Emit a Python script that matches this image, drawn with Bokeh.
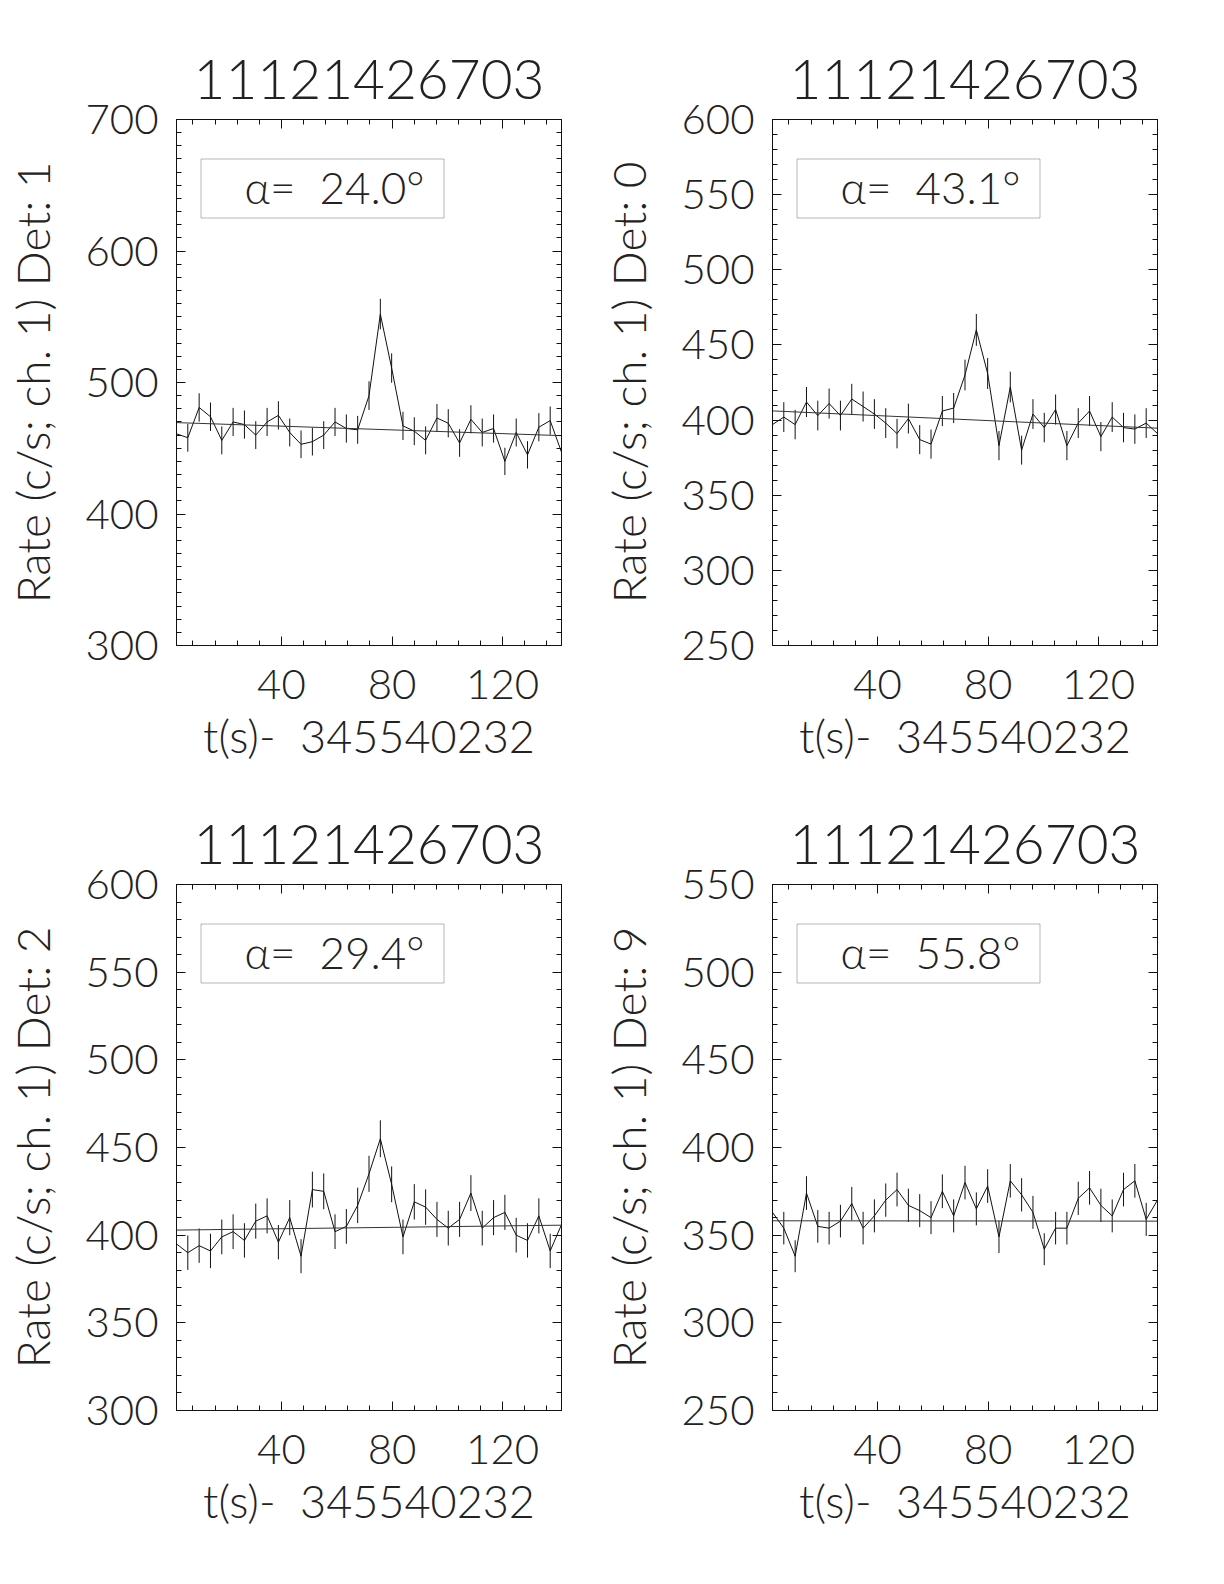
from bokeh.plotting import figure
from bokeh.layouts import gridplot
from bokeh.models import (ColumnDataSource, FixedTicker, LinearAxis, BoxAnnotation,
                          Label, CustomJSTickFormatter)
from bokeh.embed import file_html
from bokeh.resources import INLINE

# ---------------- data ----------------
title_text = "11121426703"
x_label = "t(s)-\u00a0 345540232"

time_s = [2.05, 6.14, 10.24, 14.34, 18.43, 22.53, 26.62, 30.72, 34.82, 38.91,
          43.01, 47.10, 51.20, 55.30, 59.39, 63.49, 67.58, 71.68, 75.78, 79.87,
          83.97, 88.06, 92.16, 96.26, 100.35, 104.45, 108.54, 112.64, 116.74, 120.83,
          124.93, 129.02, 133.12, 137.22, 141.31]

x_ticks = [40, 80, 120]
x_minor_ticks = [8, 16, 24, 32, 40, 48, 56, 64, 72, 80, 88, 96, 104, 112, 120, 128, 136]

# Det 1
rate_det1 = [461, 458, 481, 474, 456, 470, 468, 460, 470, 475, 462, 453, 455, 460, 470,
             465, 464, 490, 552, 511, 467, 463, 456, 473, 469, 454, 472, 462, 465, 440,
             462, 445, 466, 471, 447]
err_det1 = [10.6, 10.6, 10.8, 10.8, 10.6, 10.7, 10.7, 10.6, 10.7, 10.8, 10.6, 10.5, 10.5, 10.6, 10.7,
            10.7, 10.6, 10.9, 11.6, 11.2, 10.7, 10.6, 10.6, 10.7, 10.7, 10.5, 10.7, 10.6, 10.7, 10.4,
            10.6, 10.4, 10.7, 10.7, 10.4]
bkg_det1 = [469.5, 459.6]
alpha_det1 = "24.0"
yticks_det1 = [300, 400, 500, 600, 700]

# Det 0
rate_det0 = [397, 402, 397, 412, 403, 411, 403, 414, 409, 404, 398, 391, 401, 387, 384,
             406, 408, 430, 460, 431, 383, 422, 380, 404, 395, 407, 383, 398, 406, 389,
             402, 395, 394, 398, 391]
err_det0 = [9.8, 9.9, 9.8, 10.0, 9.9, 10.0, 9.9, 10.1, 10.0, 9.9, 9.9, 9.8, 9.9, 9.7, 9.7,
            10.0, 10.0, 10.2, 10.6, 10.3, 9.7, 10.2, 9.6, 9.9, 9.8, 10.0, 9.7, 9.9, 10.0, 9.7,
            9.9, 9.8, 9.8, 9.9, 9.8]
bkg_det0 = [406.1, 394.6]
alpha_det0 = "43.1"
yticks_det0 = [250, 300, 350, 400, 450, 500, 550, 600]

# Det 2
rate_det2 = [395, 390, 394, 391, 399, 402, 397, 408, 411, 396, 410, 388, 426, 425, 402,
             405, 417, 435, 455, 429, 399, 419, 416, 409, 404, 409, 424, 404, 410, 413,
             400, 397, 411, 391, 406]
err_det2 = [9.8, 9.8, 9.8, 9.8, 9.9, 9.9, 9.8, 10.0, 10.0, 9.8, 10.0, 9.7, 10.2, 10.2, 9.9,
            9.9, 10.1, 10.3, 10.5, 10.2, 9.9, 10.1, 10.1, 10.0, 9.9, 10.0, 10.2, 9.9, 10.0, 10.0,
            9.9, 9.8, 10.0, 9.8, 10.0]
bkg_det2 = [402.9, 405.7]
alpha_det2 = "29.4"
yticks_det2 = [300, 350, 400, 450, 500, 550, 600]

# Det 9
rate_det9 = [363, 354, 338, 374, 355, 354, 358, 368, 354, 361, 370, 376, 367, 364, 360,
             375, 361, 380, 365, 378, 349, 381, 373, 363, 342, 354, 354, 371, 377, 367,
             361, 376, 381, 359, 370]
err_det9 = [9.4, 9.3, 9.1, 9.6, 9.3, 9.3, 9.3, 9.5, 9.3, 9.4, 9.5, 9.6, 9.5, 9.4, 9.4,
            9.6, 9.4, 9.6, 9.4, 9.6, 9.2, 9.6, 9.5, 9.4, 9.1, 9.3, 9.3, 9.5, 9.6, 9.5,
            9.4, 9.6, 9.6, 9.4, 9.5]
bkg_det9 = [358.2, 358.0]
alpha_det9 = "55.8"
yticks_det9 = [250, 300, 350, 400, 450, 500, 550]

panels = [
    ("1", rate_det1, err_det1, bkg_det1, alpha_det1, yticks_det1, 10, 119),
    ("0", rate_det0, err_det0, bkg_det0, alpha_det0, yticks_det0, 10, 119),
    ("2", rate_det2, err_det2, bkg_det2, alpha_det2, yticks_det2, 10, 113),
    ("9", rate_det9, err_det9, bkg_det9, alpha_det9, yticks_det9, 10, 113),
]

# ---------------- style ----------------
FONT = "Lato Light, Lato"
TXT = "#222222"
INK = "#111111"


def style_axis(ax):
    ax.axis_line_color = INK
    ax.major_tick_line_color = INK
    ax.minor_tick_line_color = INK
    ax.major_tick_in = 9
    ax.major_tick_out = 0
    ax.minor_tick_in = 5
    ax.minor_tick_out = 0


def blank_axis(ticker):
    ax = LinearAxis(ticker=ticker, formatter=CustomJSTickFormatter(code="return ''"))
    style_axis(ax)
    ax.major_label_text_font_size = "1px"
    ax.major_label_standoff = 0
    return ax


def make_panel(det, rate, err, bkg, alpha, yticks, ystep, top_border):
    ylo, yhi = yticks[0], yticks[-1]
    p = figure(frame_width=385, frame_height=526,
               x_range=(time_s[0], time_s[-1]), y_range=(ylo, yhi),
               output_backend="svg", toolbar_location=None,
               min_border_left=176, min_border_right=35,
               min_border_top=top_border, min_border_bottom=126)
    p.xgrid.visible = False
    p.ygrid.visible = False
    p.outline_line_color = INK
    p.background_fill_color = "white"
    p.border_fill_color = "white"

    p.title.text = title_text
    p.title.align = "center"
    p.title.text_font = FONT
    p.title.text_font_size = "55px"
    p.title.text_font_style = "normal"
    p.title.text_color = TXT
    p.title.standoff = 42

    xt = FixedTicker(ticks=x_ticks, minor_ticks=x_minor_ticks)
    yminor = list(range(ylo, yhi + 1, ystep))
    yt = FixedTicker(ticks=yticks, minor_ticks=yminor)

    xa = p.xaxis[0]
    xa.ticker = xt
    style_axis(xa)
    xa.axis_label = x_label
    xa.axis_label_text_font = FONT
    xa.axis_label_text_font_size = "45px"
    xa.axis_label_text_font_style = "normal"
    xa.axis_label_text_color = TXT
    xa.axis_label_standoff = 7
    xa.major_label_text_font = FONT
    xa.major_label_text_font_size = "42px"
    xa.major_label_text_color = TXT
    xa.major_label_standoff = 24

    ya = p.yaxis[0]
    ya.ticker = yt
    style_axis(ya)
    ya.axis_label = "Rate (c/s; ch. 1) Det: " + det
    ya.axis_label_text_font = FONT
    ya.axis_label_text_font_size = "46px"
    ya.axis_label_text_font_style = "normal"
    ya.axis_label_text_color = TXT
    ya.axis_label_standoff = 22
    ya.major_label_text_font = FONT
    ya.major_label_text_font_size = "42px"
    ya.major_label_text_color = TXT
    ya.major_label_standoff = 18
    ya.major_label_orientation = "horizontal"

    p.add_layout(blank_axis(xt), "above")
    p.add_layout(blank_axis(yt), "right")

    lo = [r - e for r, e in zip(rate, err)]
    hi = [r + e for r, e in zip(rate, err)]
    src = ColumnDataSource(dict(t=time_s, rate=rate, lo=lo, hi=hi))
    p.segment(x0="t", y0="lo", x1="t", y1="hi", source=src, line_color=INK, line_width=1)
    p.line(x="t", y="rate", source=src, line_color=INK, line_width=1)
    p.line(x=[time_s[0], time_s[-1]], y=bkg, line_color="#333333", line_width=1)

    p.add_layout(BoxAnnotation(left=24.5, right=267.5, bottom=427.5, top=486.5,
                               left_units="screen", right_units="screen",
                               bottom_units="screen", top_units="screen",
                               fill_color=None, fill_alpha=0, line_color="#111111", line_width=1))
    p.add_layout(Label(x=158, y=459, x_units="screen", y_units="screen",
                       text="\u03b1=\u00a0 " + alpha + "\u00b0", text_align="center",
                       text_baseline="middle", text_font=FONT, text_font_size="44px",
                       text_color=TXT))
    return p


figs = [make_panel(*args) for args in panels]
grid = gridplot([[figs[0], figs[1]], [figs[2], figs[3]]], toolbar_location=None)

open("out.html", "w").write(file_html(grid, INLINE))
